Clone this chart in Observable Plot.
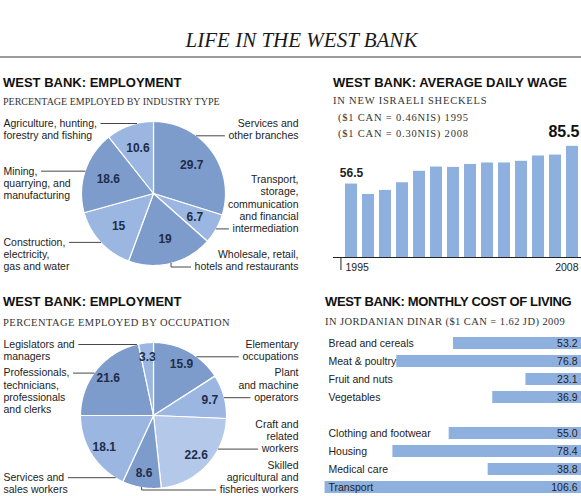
<!DOCTYPE html>
<html><head><meta charset="utf-8">
<script src="https://cdn.jsdelivr.net/npm/d3@7"></script>
<script src="https://cdn.jsdelivr.net/npm/@observablehq/plot@0.6"></script>
<style>
html,body{margin:0;padding:0;background:#fff;}
#page{position:relative;width:581px;height:496px;overflow:hidden;background:#fff;}
.abs{position:absolute;white-space:nowrap;}
.main{font-family:"Liberation Serif","Times New Roman",serif;font-style:italic;font-size:21px;line-height:21px;color:#1a1a1a;left:0;width:603px;text-align:center;top:29.7px;}
.rule{left:0;width:581px;top:56px;height:2px;background:#9b9b9b;}
.hd{font-family:"Liberation Sans",Arial,sans-serif;font-weight:bold;font-size:13px;line-height:13px;color:#111;}
.sub{font-family:"Liberation Serif","Times New Roman",serif;font-size:10.5px;line-height:10.5px;color:#333;}
.plot{position:absolute;}
</style></head><body>
<div id="page">
  <div class="abs main">LIFE IN THE WEST BANK</div>
  <div class="abs rule"></div>
  <div class="abs hd" style="left:3px;top:76.3px">WEST BANK: EMPLOYMENT</div>
  <div class="abs sub" style="left:3px;top:96.6px;font-size:10px;line-height:10px">PERCENTAGE EMPLOYED BY INDUSTRY TYPE</div>
  <div class="abs hd" style="left:333px;top:75.7px">WEST BANK: AVERAGE DAILY WAGE</div>
  <div class="abs sub" style="left:333px;top:96.2px;letter-spacing:0.8px">IN NEW ISRAELI SHECKELS</div>
  <div class="abs sub" style="left:338px;top:112.9px;letter-spacing:0.8px">($1 CAN = 0.46NIS) 1995</div>
  <div class="abs sub" style="left:338px;top:128.5px;letter-spacing:0.8px">($1 CAN = 0.30NIS) 2008</div>
  <div class="abs hd" style="left:3px;top:295px">WEST BANK: EMPLOYMENT</div>
  <div class="abs sub" style="left:3px;top:317.9px;letter-spacing:0.45px">PERCENTAGE EMPLOYED BY OCCUPATION</div>
  <div class="abs hd" style="left:325px;top:295px;letter-spacing:-0.35px">WEST BANK: MONTHLY COST OF LIVING</div>
  <div class="abs sub" style="left:325px;top:316.9px;letter-spacing:0.43px">IN JORDANIAN DINAR ($1 CAN = 1.62 JD) 2009</div>
</div>
<script>
// ---------- DATA ----------
const industryLabels = [
  "Services and\nother branches",
  "Transport,\nstorage,\ncommunication\nand financial\nintermediation",
  "Wholesale, retail,\nhotels and restaurants",
  "Construction,\nelectricity,\ngas and water",
  "Mining,\nquarrying, and\nmanufacturing",
  "Agriculture, hunting,\nforestry and fishing"
];
const industryValues = [29.7, 6.7, 19, 15, 18.6, 10.6];

const occupationLabels = [
  "Elementary\noccupations",
  "Plant\nand machine\noperators",
  "Craft and\nrelated\nworkers",
  "Skilled\nagricultural and\nfisheries workers",
  "Services and\nsales workers",
  "Professionals,\ntechnicians,\nprofessionals\nand clerks",
  "Legislators and\nmanagers"
];
const occupationValues = [15.9, 9.7, 22.6, 8.6, 18.1, 21.6, 3.3];

const wageYears = ["1995","1996","1997","1998","1999","2000","2001","2002","2003","2004","2005","2006","2007","2008"];
const wageValues = [56.5, 48.5, 51.6, 57.5, 66.3, 69.6, 69.3, 71.6, 72.7, 72.7, 74.0, 78.1, 78.8, 85.5];

const costCategories = ["Bread and cereals","Meat & poultry","Fruit and nuts","Vegetables","Clothing and footwear","Housing","Medical care","Transport"];
const costGroups = ["Food","Food","Food","Food","Other","Other","Other","Other"];
const costValues = [53.2, 76.8, 23.1, 36.9, 55.0, 78.4, 38.8, 106.6];

// ---------- STYLE ----------
const DARK = "#7e9ccb", LIGHT = "#9ab6e1", LIGHTEST = "#b4c8ea", BAR = "#8eb0df";
const industryShades = [DARK, LIGHT, DARK, LIGHT, DARK, LIGHT];
const occupationShades = [DARK, LIGHT, LIGHTEST, DARK, LIGHT, DARK, LIGHT];
const LABEL_FAMILY = "'Liberation Sans', Arial, sans-serif";
const LABEL_SIZE = 10.5;
const VALUE_COLOR = "#1f2d4a";
const page = document.getElementById("page");

function place(node, left, top) {
  node.classList.add("plot");
  node.style.left = left + "px";
  node.style.top = top + "px";
  page.appendChild(node);
}

function piePlot({values, labels, shades, width, height, cx, cy, r, labelRadius}) {
  const total = d3.sum(values);
  let acc = 0;
  const slices = values.map((v, i) => {
    const a0 = acc / total * 2 * Math.PI; acc += v;
    const a1 = acc / total * 2 * Math.PI;
    return {i, v, lines: labels[i].split("\n"), a0, a1, mid: (a0 + a1) / 2, shade: shades[i]};
  });
  const wedge = slices.flatMap(s => {
    const n = Math.max(2, Math.ceil((s.a1 - s.a0) / (Math.PI / 180)));
    const pts = [{k: s.i, x: 0, y: 0, shade: s.shade}];
    for (let j = 0; j <= n; ++j) {
      const a = s.a0 + (s.a1 - s.a0) * j / n;
      pts.push({k: s.i, x: Math.sin(a), y: -Math.cos(a), shade: s.shade});
    }
    pts.push({k: s.i, x: 0, y: 0, shade: s.shade});
    return pts;
  });
  // label layout (pixel space), derived from slice geometry
  const ctx = document.createElement("canvas").getContext("2d");
  ctx.font = `${LABEL_SIZE}px ${LABEL_FAMILY}`;
  const lineH = 12.3, gap = 4;
  const layout = [];
  const isRight = s => s.mid < Math.PI * 1.1;
  for (const side of ["left", "right"]) {
    const group = slices.filter(s => isRight(s) === (side === "right"))
      .map(s => ({...s, side, ex: cx + r * Math.sin(s.mid), ey: cy - r * Math.cos(s.mid)}))
      .sort((a, b) => a.ey - b.ey);
    group.forEach((g, j) => {
      const h = (g.lines.length - 1) * lineH;
      if (j === 0 && group.length > 1) g.first = cy - r + 2;
      else if (j === group.length - 1 && group.length > 1) g.first = cy + r + 1.5 - h;
      else g.first = side === "left" ? g.ey : g.ey - h;
    });
    for (let j = 1; j < group.length - 1; ++j) {
      const p = group[j - 1];
      group[j].first = Math.max(group[j].first, p.first + p.lines.length * lineH + gap);
    }
    for (let j = group.length - 2; j >= 1; --j) {
      const nx = group[j + 1], g = group[j];
      const last = g.first + (g.lines.length - 1) * lineH;
      const maxLast = nx.first - lineH - gap;
      if (last > maxLast) g.first -= last - maxLast;
    }
    layout.push(...group);
  }
  const leaders = [], leftTexts = [], rightTexts = [];
  const U = px => (px - cx) / r, V = py => (py - cy) / r;
  for (const g of layout) {
    const tx = g.side === "left" ? 3 : width - 2;
    g.lines.forEach((t, j) => (g.side === "left" ? leftTexts : rightTexts).push({t, x: U(tx), y: V(g.first + j * lineH)}));
    let best = null;
    g.lines.forEach((t, j) => {
      const ly = g.first + j * lineH;
      const outside = Math.abs(ly - cy) >= r - 1;
      const score = Math.abs(ly - g.ey) - (outside ? 3 : 0);
      if (!best || score < best.score) best = {score, ly, w: ctx.measureText(t).width};
    });
    const dir = g.ex < cx ? 1 : -1;
    const sx = g.side === "left" ? tx + best.w + 4 : tx - best.w - 4;
    const dy = best.ly - cy;
    let pts;
    if (Math.abs(dy) < r) pts = [[sx, best.ly], [cx - dir * Math.sqrt(r * r - dy * dy), best.ly]];
    else pts = [[sx, best.ly], [g.ex, best.ly], [g.ex, g.ey]];
    pts.forEach(([x, y]) => leaders.push({k: g.i, x: U(x), y: V(y)}));
  }
  const valueLabels = slices.map(s => ({t: String(s.v), x: labelRadius * Math.sin(s.mid), y: -labelRadius * Math.cos(s.mid)}));
  const textOpts = {x: "x", y: "y", text: "t", fontFamily: LABEL_FAMILY, fontSize: LABEL_SIZE, fill: "#222", lineAnchor: "middle"};
  return Plot.plot({
    width, height, margin: 0,
    x: {domain: [-cx / r, (width - cx) / r], range: [0, width], axis: null},
    y: {domain: [-cy / r, (height - cy) / r], range: [0, height], axis: null},
    color: {type: "identity"},
    marks: [
      Plot.line(wedge, {x: "x", y: "y", z: "k", fill: "shade", stroke: "white", strokeWidth: 1.2, strokeLinejoin: "round"}),
      Plot.line(leaders, {x: "x", y: "y", z: "k", stroke: "#333", strokeWidth: 0.9}),
      Plot.text(leftTexts, {...textOpts, textAnchor: "start"}),
      Plot.text(rightTexts, {...textOpts, textAnchor: "end"}),
      Plot.text(valueLabels, {x: "x", y: "y", text: "t", fontFamily: "'Liberation Sans', Arial, sans-serif", fontWeight: "bold", fontSize: 12, fill: VALUE_COLOR, lineAnchor: "middle"})
    ]
  });
}

// ---------- PIE 1 ----------
place(piePlot({values: industryValues, labels: industryLabels, shades: industryShades, width: 300, height: 170, cx: 153, cy: 85, r: 72, labelRadius: 0.66}), 0, 108);
// ---------- PIE 2 ----------
place(piePlot({values: occupationValues, labels: occupationLabels, shades: occupationShades, width: 300, height: 166, cx: 153, cy: 85, r: 73, labelRadius: 0.8}), 0, 330);

// ---------- WAGE BARS ----------
{
  const wage = wageYears.map((year, i) => ({year, v: wageValues[i]}));
  const W = 261, H = 160, ML = 13, MB = 23, MT = 7;
  const xBand = {type: "band", domain: wageYears, paddingInner: 0.32, paddingOuter: 0.16, align: 0.8};
  const xs = Plot.scale({x: {...xBand, range: [ML, W]}});
  const half = xs.bandwidth / 2;
  const tickDx = ML - (xs.apply(wageYears[0]) + half);
  const first = wage.slice(0, 1), last = wage.slice(-1);
  const chart = Plot.plot({
    width: W, height: H, marginLeft: ML, marginRight: 0, marginTop: MT, marginBottom: MB,
    x: {...xBand, axis: null},
    y: {domain: [0, 100], axis: null},
    marks: [
      Plot.barY(wage, {x: "year", y: "v", fill: BAR}),
      Plot.ruleY([0], {stroke: "#222", strokeWidth: 1}),
      Plot.ruleX(first, {x: "year", y1: 0, y2: -10, dx: tickDx, stroke: "#222", strokeWidth: 1}),
      Plot.text(first, {x: "year", y: "v", text: d => String(d.v), dy: -10.5, fontFamily: "'Liberation Sans', Arial, sans-serif", fontWeight: "bold", fontSize: 12, fill: "#222"}),
      Plot.text(last, {x: "year", y: "v", text: d => String(d.v), dy: -14, dx: half + 1, textAnchor: "end", fontFamily: "'Liberation Sans', Arial, sans-serif", fontWeight: "bold", fontSize: 16, fill: "#111"}),
      Plot.text(first, {x: "year", y: 0, text: "year", dy: 10, dx: -half, textAnchor: "start", fontFamily: LABEL_FAMILY, fontSize: LABEL_SIZE, fill: "#222", lineAnchor: "middle"}),
      Plot.text(last, {x: "year", y: 0, text: "year", dy: 10, dx: half, textAnchor: "end", fontFamily: LABEL_FAMILY, fontSize: LABEL_SIZE, fill: "#222", lineAnchor: "middle"})
    ]
  });
  place(chart, 320, 120);
}

// ---------- COST OF LIVING ----------
{
  const cost = costCategories.map((c, i) => ({c, g: costGroups[i], v: costValues[i]}));
  const domain = [];
  cost.forEach((d, i) => { if (i > 0 && d.g !== cost[i - 1].g) domain.push(""); domain.push(d.c); });
  const chart = Plot.plot({
    width: 261, height: 166, margin: 0,
    x: {domain: [0, 108.5], reverse: true, axis: null},
    y: {type: "band", domain, paddingInner: 0.35, paddingOuter: 0.175, axis: null},
    marks: [
      Plot.barX(cost, {x: "v", y: "c", fill: BAR}),
      Plot.text(cost, {y: "c", text: "c", frameAnchor: "left", dx: 8, textAnchor: "start", fontFamily: LABEL_FAMILY, fontSize: LABEL_SIZE, fill: "#222"}),
      Plot.text(cost, {y: "c", text: d => d3.format(".1f")(d.v), frameAnchor: "right", dx: -4, textAnchor: "end", fontFamily: LABEL_FAMILY, fontSize: LABEL_SIZE, fill: "#222"})
    ]
  });
  place(chart, 320, 332);
}
</script>
</body></html>
